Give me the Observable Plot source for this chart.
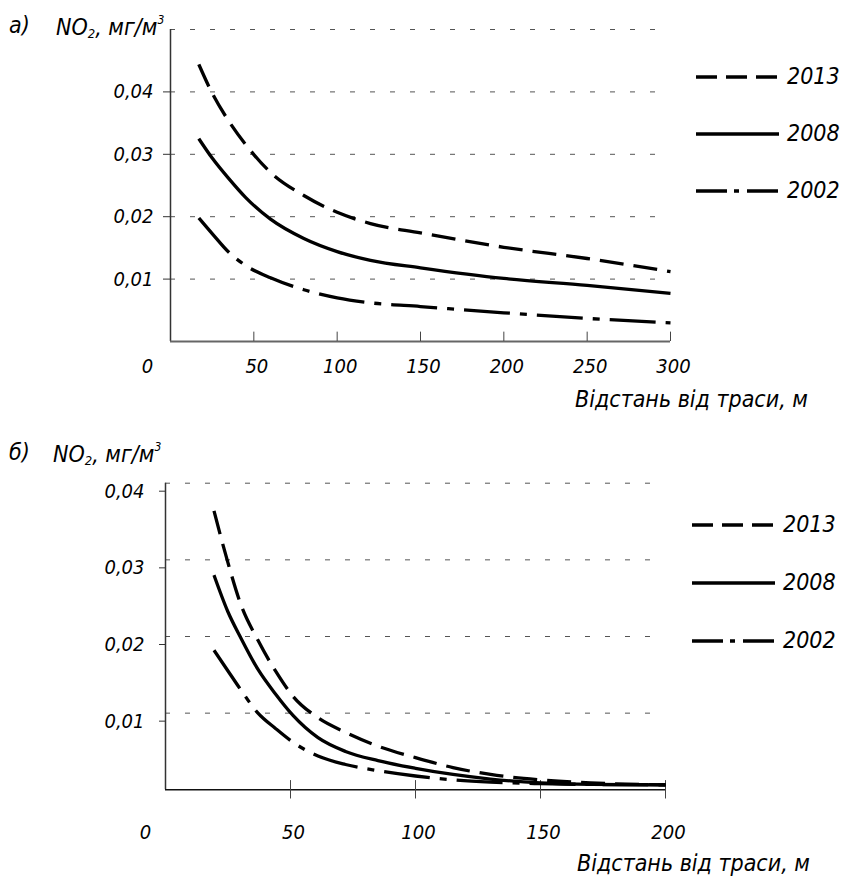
<!DOCTYPE html>
<html>
<head>
<meta charset="utf-8">
<script src="https://cdn.jsdelivr.net/npm/d3@7"></script>
<script src="https://cdn.jsdelivr.net/npm/@observablehq/plot@0.6"></script>
<style>
  html, body { margin: 0; padding: 0; background: #fff; color: #000; }
  #root { position: relative; width: 844px; height: 880px; overflow: hidden;
          font-family: "Liberation Sans Narrow", "DejaVu Sans Condensed", sans-serif; font-style: italic; }
  .abs { position: absolute; white-space: nowrap; line-height: 1; }
  .lbl { font-size: 23px; }
  .xt { font-size: 23px; }
  sub { font-size: 13px; vertical-align: -3px; }
  sup { font-size: 12px; vertical-align: 11px; }
  .leg { display: flex; align-items: center; font-size: 23px; }
  .leg svg { margin-right: 8px; }
</style>
</head>
<body>
<div id="root"></div>
<script>
// ---------- data ----------
const years = ["2013", "2008", "2002"];

// panel а) distance 0..300 m
const distA = [17, 25, 35, 45, 60, 80, 100, 120, 150, 200, 250, 300];
const a2013 = [0.0444, 0.0398, 0.0353, 0.0316, 0.0271, 0.0234, 0.0207, 0.0189, 0.0174, 0.0151, 0.0133, 0.0112];
const a2008 = [0.0325, 0.0294, 0.0261, 0.0231, 0.0196, 0.0165, 0.0144, 0.0130, 0.0118, 0.0101, 0.0090, 0.0077];
const a2002 = [0.0198, 0.0173, 0.0143, 0.0122, 0.0102, 0.0083, 0.0070, 0.0062, 0.0056, 0.0046, 0.0037, 0.0030];

// panel б) distance 0..200 m
const distB = [19.4, 25, 30, 37, 44, 51, 61, 72, 85, 100, 115, 130, 150, 170, 200];
const b2013 = [0.0364, 0.0296, 0.0243, 0.0195, 0.0155, 0.0122, 0.0094, 0.0075, 0.0057, 0.0042, 0.0029, 0.0020, 0.0013, 0.0009, 0.00065];
const b2008 = [0.0280, 0.0232, 0.0199, 0.0157, 0.0125, 0.0097, 0.0068, 0.0050, 0.0038, 0.0028, 0.0020, 0.0014, 0.0009, 0.0007, 0.00065];
const b2002 = [0.0182, 0.0155, 0.0131, 0.0100, 0.0080, 0.0062, 0.0044, 0.0033, 0.0025, 0.0018, 0.0013, 0.0010, 0.0008, 0.0007, 0.00065];

// ticks
const xTicksA = [50, 100, 150, 200, 250, 300];
const xTicksB = [50, 100, 150, 200];
const yTicksA = [0.01, 0.02, 0.03, 0.04];
const yGridA = [0.01, 0.02, 0.03, 0.04, 0.05];
const yTicksB = [0.01, 0.02, 0.03, 0.04];

const titleA = "а)";
const titleB = "б)";
const xTitle = "Відстань від траси, м";

// ---------- styles ----------
const dashes = { "2013": "24,10", "2008": null, "2002": "46,10,7,10" };
const fmt = d => d.toFixed(2).replace(".", ",");

function rows(dist, s13, s08, s02) {
  const out = [];
  dist.forEach((d, i) => {
    out.push({ year: "2013", d, v: s13[i] });
    out.push({ year: "2008", d, v: s08[i] });
    out.push({ year: "2002", d, v: s02[i] });
  });
  return out;
}

function lineMarks(data) {
  return years.map(yr => Plot.line(data.filter(r => r.year === yr), {
    x: "d", y: "v", stroke: "#000", strokeWidth: 3.3, curve: "monotone-x",
    strokeDasharray: dashes[yr], strokeLinecap: "butt"
  }));
}

const font = { fontFamily: '"Liberation Sans Narrow", "DejaVu Sans Condensed", sans-serif',
               fontStyle: "italic", fontSize: "20px", overflow: "visible", background: "transparent" };

// ---------- panel а ----------
const plotA = Plot.plot({
  width: 844, height: 420,
  marginLeft: 170, marginRight: 174, marginTop: 29, marginBottom: 79,
  style: font,
  x: { domain: [0, 300], axis: null },
  y: { domain: [0, 0.05] },
  marks: [
    Plot.ruleY(yGridA, { y: d => d, stroke: "#555", strokeWidth: 1, strokeDasharray: "5,15" }),
    Plot.axisY(yTicksA, { tickSize: 7, tickPadding: 10, tickFormat: fmt, label: null, stroke: "#333" }),
    Plot.ruleX([0], { y1: 0, y2: 0.05, stroke: "#333", strokeWidth: 1.5 }),
    Plot.ruleY([0], { stroke: "#666", strokeWidth: 2 }),
    Plot.ruleX(xTicksA, { x: d => d, y1: 0, y2: 0.0015, stroke: "#444", strokeWidth: 1 }),
    Plot.text(xTicksA, { x: d => d, y: 0, text: d => String(d), dy: 25, dx: 3, fill: "#000" }),
    Plot.text([0], { x: d => d, y: 0, text: d => String(d), dy: 25, dx: -23, fill: "#000" }),
    ...lineMarks(rows(distA, a2013, a2008, a2002))
  ]
});

// ---------- panel б ----------
const plotB = Plot.plot({
  width: 844, height: 460,
  marginLeft: 165, marginRight: 179, marginTop: 62.7, marginBottom: 90.7,
  style: font,
  x: { domain: [0, 200], axis: null },
  y: { domain: [0, 0.04] },
  marks: [
    Plot.ruleY(yTicksB, { y: d => d, stroke: "#555", strokeWidth: 1, strokeDasharray: "5,15" }),
    Plot.axisY(yTicksB, { tickSize: 6, tickPadding: 15, tickFormat: fmt, label: null, stroke: "#333", dy: 8 }),
    Plot.ruleX([0], { y1: 0, y2: 0.04, stroke: "#333", strokeWidth: 1.5 }),
    Plot.ruleY([0], { stroke: "#111", strokeWidth: 1.5 }),
    Plot.ruleX(xTicksB, { x: d => d, y1: -0.0012, y2: 0.0012, stroke: "#444", strokeWidth: 1 }),
    Plot.text(xTicksB, { x: d => d, y: 0, text: d => String(d), dy: 43, dx: 3, fill: "#000" }),
    Plot.text([0], { x: d => d, y: 0, text: d => String(d), dy: 43, dx: -20, fill: "#000" }),
    ...lineMarks(rows(distB, b2013, b2008, b2002))
  ]
});

// ---------- layout ----------
const root = document.getElementById("root");
function place(el, left, top) {
  el.style.position = "absolute"; el.style.left = left + "px"; el.style.top = top + "px";
  root.appendChild(el);
}
place(plotA, 0, 0);
place(plotB, 0, 420);

function html(cls, left, top, content) {
  const d = document.createElement("div");
  d.className = "abs " + cls;
  d.innerHTML = content;
  d.style.left = left + "px"; d.style.top = top + "px";
  root.appendChild(d);
  return d;
}
const yLabel = "NO<sub>2</sub>, мг/м<sup>3</sup>";
html("lbl", 9, 14, titleA);
html("lbl", 56, 14, yLabel);
html("lbl", 9, 441, titleB);
html("lbl", 53, 441, yLabel);
html("xt", 575, 388, xTitle);
html("xt", 577, 852, xTitle);

function legend(left, tops) {
  years.forEach((yr, i) => {
    const d = document.createElement("div");
    d.className = "abs leg";
    d.style.left = left + "px"; d.style.top = tops[i] + "px";
    const svg = d3.create("svg").attr("width", 83).attr("height", 10);
    svg.append("line").attr("x1", 0).attr("x2", 83).attr("y1", 5).attr("y2", 5)
      .attr("stroke", "#000").attr("stroke-width", 3.5)
      .attr("stroke-dasharray", yr === "2013" ? "21,9" : yr === "2002" ? "31,7,5,8" : null);
    d.appendChild(svg.node());
    const s = document.createElement("span"); s.textContent = yr;
    d.appendChild(s);
    root.appendChild(d);
  });
}
legend(696, [65, 122, 179]);
legend(692, [513, 571, 629]);
</script>
</body>
</html>
